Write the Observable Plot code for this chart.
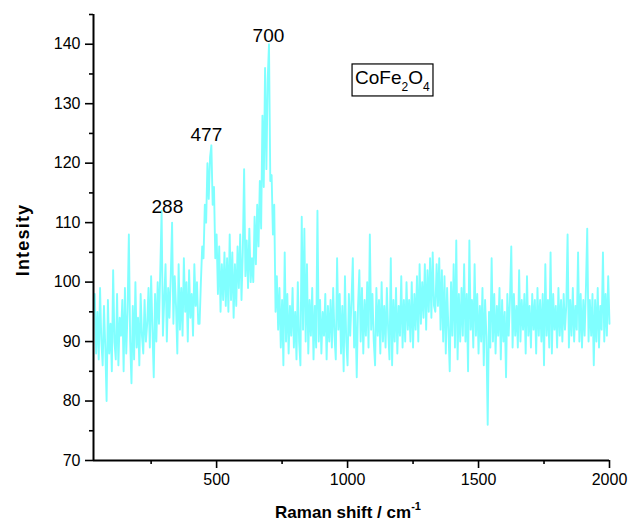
<!DOCTYPE html>
<html><head><meta charset="utf-8">
<script src="https://cdn.jsdelivr.net/npm/d3@7"></script>
<script src="https://cdn.jsdelivr.net/npm/@observablehq/plot@0.6"></script>
<style>body{margin:0;background:#fff;} #chart svg{display:block;}</style>
</head><body><div id="chart"></div>
<script>
const ramanStart = 35, ramanStep = 5;
const intensity = [
  98, 88, 95, 87, 99, 90, 86, 96, 89, 80, 97, 88, 93, 85, 102, 90, 87, 98, 86, 94,
  91, 97, 85, 99, 88, 95, 108, 90, 83, 96, 87, 100, 89, 94, 86, 98, 91, 88, 97, 90,
  93, 99, 89, 101, 92, 84, 98, 90, 100, 93, 102, 112, 91, 97, 103, 90, 99, 94, 101, 110,
  93, 101, 96, 88, 103, 92, 99, 91, 104, 95, 100, 90, 102, 94, 98, 91, 103, 96, 100, 93,
  93, 100, 106, 104, 113, 110, 120, 114, 121, 123, 113, 116, 104, 108, 98, 106, 95, 103, 97, 105,
  96, 104, 95, 108, 97, 105, 94, 103, 96, 106, 99, 108, 97, 105, 119, 101, 107, 99, 109, 100,
  104, 100, 111, 103, 113, 106, 117, 109, 128, 116, 136, 119, 134, 140, 117, 118, 108, 113, 95, 101,
  92, 99, 89, 97, 86, 105, 90, 98, 88, 96, 91, 99, 89, 95, 87, 100, 90, 86, 111, 92,
  109, 90, 103, 88, 97, 91, 99, 87, 96, 89, 112, 90, 97, 88, 95, 91, 98, 87, 96, 90,
  97, 89, 99, 91, 87, 104, 92, 98, 88, 96, 85, 101, 90, 86, 98, 91, 97, 104, 89, 95,
  84, 96, 102, 90, 99, 88, 97, 91, 100, 89, 108, 92, 98, 90, 86, 99, 91, 97, 88, 100,
  90, 96, 89, 99, 92, 87, 104, 86, 97, 90, 99, 88, 96, 91, 101, 89, 97, 90, 100, 92,
  97, 90, 100, 89, 98, 92, 101, 90, 103, 93, 100, 94, 103, 92, 102, 95, 104, 94, 105, 96,
  95, 103, 96, 104, 92, 102, 90, 101, 88, 99, 92, 85, 100, 91, 103, 89, 107, 87, 98, 90,
  99, 91, 103, 90, 98, 85, 107, 92, 97, 89, 103, 91, 98, 88, 96, 90, 99, 86, 97, 91,
  76, 95, 89, 104, 90, 98, 88, 96, 91, 99, 87, 97, 90, 95, 84, 98, 91, 97, 106, 89,
  98, 91, 96, 89, 102, 90, 97, 92, 98, 88, 101, 91, 96, 89, 98, 92, 97, 88, 99, 91,
  97, 90, 98, 86, 103, 91, 97, 89, 105, 88, 98, 92, 96, 89, 99, 91, 97, 90, 98, 92,
  96, 108, 89, 97, 91, 99, 90, 96, 92, 105, 90, 98, 89, 97, 91, 99, 109, 90, 97, 91,
  98, 86, 97, 90, 99, 89, 96, 92, 105, 90, 98, 91, 101, 93
];
const xMajorTicks = [500, 1000, 1500, 2000];
const xMinorTicks = [250, 750, 1250, 1750];
const yMajorTicks = [70, 80, 90, 100, 110, 120, 130, 140];
const yMinorTicks = [75, 85, 95, 105, 115, 125, 135, 145];
const peakLabels = ["288", "477", "700"];
const peakLabelX = [312, 461, 698];
const peakLabelY = [111.6, 123.7, 140.3];
const sampleParts = ["CoFe", "2", "O", "4"];
const sampleX = 1019, sampleY = 136.6;
const xTitle = "Raman shift / cm", xTitleSup = "-1";
const yTitle = "Intesity";

const spectrum = intensity.map((v, i) => ({shift: ramanStart + i * ramanStep, value: v}));
const peaks = peakLabels.map((t, i) => ({t, x: peakLabelX[i], y: peakLabelY[i]}));

const font = "'Liberation Sans', Arial, sans-serif";
const W = 640, H = 525, mL = 93, mR = 31, mT = 14, mB = 65;

const plot = Plot.plot({
  width: W, height: H,
  marginLeft: mL, marginRight: mR, marginTop: mT, marginBottom: mB,
  style: {fontFamily: font, fontSize: "16px", color: "#000", background: "#fff", overflow: "visible"},
  x: {domain: [30, 2000]},
  y: {domain: [70, 145]},
  marks: [
    Plot.lineY(spectrum, {x: "shift", y: "value", stroke: "#80ffff", strokeWidth: 1.9}),
    Plot.axisX(xMajorTicks, {tickSize: 8, tickPadding: 5, tickFormat: d => String(d), label: null, strokeWidth: 1.6, fontSize: 16}),
    Plot.axisX(xMinorTicks, {tickSize: 4, tickFormat: () => "", label: null, strokeWidth: 1.6}),
    Plot.axisY(yMajorTicks, {tickSize: 8, tickPadding: 5, tickFormat: d => String(d), label: null, strokeWidth: 1.6, fontSize: 16}),
    Plot.axisY(yMinorTicks, {tickSize: 4, tickFormat: () => "", label: null, strokeWidth: 1.6}),
    Plot.ruleY([70], {strokeWidth: 2}),
    Plot.ruleX([30], {strokeWidth: 2}),
    Plot.text(peaks, {x: "x", y: "y", text: "t", lineAnchor: "bottom", fontSize: 19})
  ]
});
document.getElementById("chart").append(plot);

const svg = d3.select(plot);
const sx = plot.scale("x"), sy = plot.scale("y");

// sample name box
const bx = sx.apply(sampleX), by = sy.apply(sampleY);
const g = svg.append("g");
const t = g.append("text").attr("x", bx + 3).attr("y", by + 20).attr("text-anchor", "start")
  .style("font-family", font).style("font-size", "19px").attr("fill", "#000");
t.append("tspan").text(sampleParts[0]);
t.append("tspan").text(sampleParts[1]).style("font-size", "12px").attr("dy", 7);
t.append("tspan").text(sampleParts[2]).attr("dy", -7);
t.append("tspan").text(sampleParts[3]).style("font-size", "12px").attr("dy", 7);
const bb = t.node().getBBox();
g.insert("rect", "text").attr("x", bx).attr("y", by)
  .attr("width", bb.x + bb.width + 3 - bx).attr("height", 32)
  .attr("fill", "none").attr("stroke", "#000").attr("stroke-width", 1.2);

// x title
const xt = svg.append("text").attr("x", (mL + W - mR) / 2 - 3).attr("y", 518)
  .attr("text-anchor", "middle").style("font-family", font).style("font-size", "17px")
  .style("font-weight", "bold").attr("fill", "#000");
xt.append("tspan").text(xTitle);
xt.append("tspan").text(xTitleSup).style("font-size", "11px").attr("dy", -8);

// y title
svg.append("text").attr("transform", `translate(29,${(mT + H - mB) / 2 + 3}) rotate(-90)`)
  .attr("text-anchor", "middle").style("font-family", font).style("font-size", "18px")
  .style("font-weight", "bold").style("letter-spacing", "1.2px").attr("fill", "#000")
  .text(yTitle);
</script></body></html>
